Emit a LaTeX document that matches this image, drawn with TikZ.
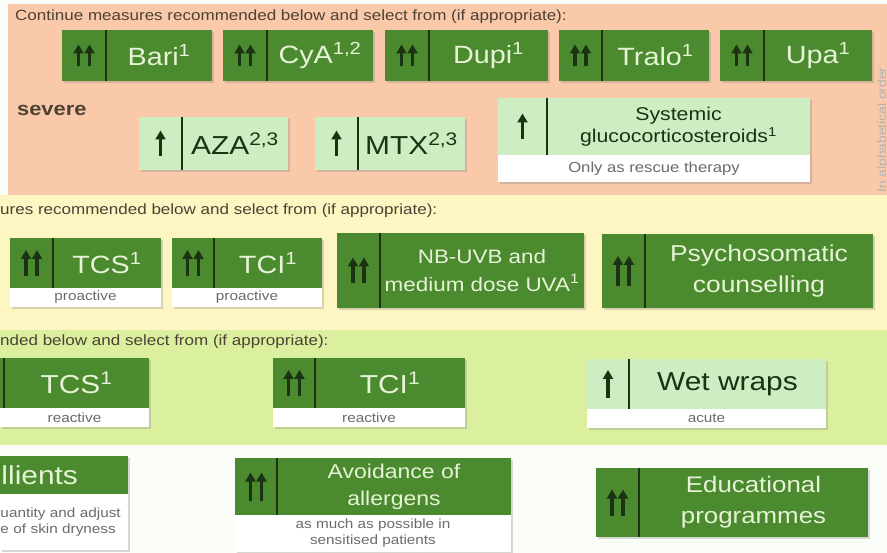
\documentclass[tikz,border=0pt]{standalone}
\usepackage{fontspec}
\setmainfont[FakeStretch=1.15]{Liberation Sans}
\usetikzlibrary{arrows.meta,shadows}

\definecolor{bandsevere}{HTML}{F9C9AA}
\definecolor{bandmod}{HTML}{FDF5C2}
\definecolor{bandmild}{HTML}{DAF09F}
\definecolor{bandbase}{HTML}{FBFDF8}
\definecolor{recdark}{HTML}{4B8A2E}
\definecolor{reclight}{HTML}{CDEDC2}
\definecolor{recink}{HTML}{1B3312}
\definecolor{recpale}{HTML}{E6F3D6}
\definecolor{hdrink}{HTML}{4D4136}
\definecolor{noteink}{HTML}{6B6B6B}

\newcommand{\upsingle}[2][13]{\draw[uparr] ([yshift=-#1pt]#2.center) -- ([yshift=#1pt]#2.center);}
\newcommand{\updouble}[2][13]{%
  \draw[uparr] ([xshift=-5.5pt,yshift=-#1pt]#2.center) -- ([xshift=-5.5pt,yshift=#1pt]#2.center);
  \draw[uparr] ([xshift=5.5pt,yshift=-#1pt]#2.center) -- ([xshift=5.5pt,yshift=#1pt]#2.center);}

\begin{document}
\begin{tikzpicture}[x=1pt,y=-1pt,
  cell/.style={inner sep=0pt, outer sep=0pt, anchor=north west,
    drop shadow={shadow xshift=1.5pt, shadow yshift=-2pt, opacity=0.3}},
  dark/.style={cell, fill=recdark, text=recpale},
  light/.style={cell, fill=reclight, text=recink},
  note/.style={cell, fill=white, text=noteink, align=center, font=\fontsize{13.3}{16}\selectfont},
  row1/.style={dark, minimum height=51, font=\fontsize{25}{28}\selectfont},
  big/.style={font=\fontsize{26}{28}\selectfont},
  divider/.style={draw=recink, line width=2.5pt},
  uparr/.style={draw=recink, line width=3.2pt, -{Triangle[width=10pt,length=9pt]}},
  hdr/.style={anchor=west, inner sep=0pt, text=hdrink, font=\fontsize{14.8}{16}\selectfont}]
\useasboundingbox (0,0) rectangle (887,553);

% bands
\fill[bandbase] (0,0) rectangle (887,553);
\fill[bandsevere] (8,4) rectangle (887,195);
\fill[bandmod] (0,195) rectangle (887,330);
\fill[bandmild] (0,330) rectangle (887,445);

% severe
\node[hdr] (hdr1) at (15,17) {Continue measures recommended below and select from (if appropriate):};
\node[anchor=west, inner sep=0pt, text=hdrink, font=\bfseries\fontsize{19}{21}\selectfont] (sev) at (17,110) {severe};
\node[rotate=90, inner sep=0pt, text=black!30, font=\fontsize{12}{14}\selectfont] (alpha) at (883,130) {In alphabetical order};

\node[row1, minimum width=44] (bari-up) at (62,30) {};
\node[row1, minimum width=106] (bari) at (bari-up.north east) {Bari\textsuperscript{1}};
\draw[divider] (bari-up.north east) -- (bari-up.south east);
\updouble[11]{bari-up}

\node[row1, minimum width=44] (cya-up) at (223,30) {};
\node[row1, minimum width=106] (cya) at (cya-up.north east) {CyA\textsuperscript{1,2}};
\draw[divider] (cya-up.north east) -- (cya-up.south east);
\updouble[11]{cya-up}

\node[row1, minimum width=44] (dupi-up) at (385,30) {};
\node[row1, minimum width=119] (dupi) at (dupi-up.north east) {Dupi\textsuperscript{1}};
\draw[divider] (dupi-up.north east) -- (dupi-up.south east);
\updouble[11]{dupi-up}

\node[row1, minimum width=43] (tralo-up) at (559,30) {};
\node[row1, minimum width=107] (tralo) at (tralo-up.north east) {Tralo\textsuperscript{1}};
\draw[divider] (tralo-up.north east) -- (tralo-up.south east);
\updouble[11]{tralo-up}

\node[row1, minimum width=44] (upa-up) at (720,30) {};
\node[row1, minimum width=108] (upa) at (upa-up.north east) {Upa\textsuperscript{1}};
\draw[divider] (upa-up.north east) -- (upa-up.south east);
\updouble[11]{upa-up}

\node[light, minimum width=43, minimum height=53] (aza-up) at (139,117) {};
\node[light, big, minimum width=106, minimum height=53] (aza) at (aza-up.north east) {AZA\textsuperscript{2,3}};
\draw[divider] (aza-up.north east) -- (aza-up.south east);
\upsingle{aza-up}

\node[light, minimum width=43, minimum height=53] (mtx-up) at (315,117) {};
\node[light, big, minimum width=107, minimum height=53] (mtx) at (mtx-up.north east) {MTX\textsuperscript{2,3}};
\draw[divider] (mtx-up.north east) -- (mtx-up.south east);
\upsingle{mtx-up}

\node[light, minimum width=49, minimum height=57] (gcs-up) at (498,98) {};
\node[light, minimum width=263, minimum height=57, align=center, font=\fontsize{18.5}{22}\selectfont] (gcs) at (gcs-up.north east) {Systemic\\glucocorticosteroids\textsuperscript{1}};
\node[note, minimum width=312, minimum height=27, font=\fontsize{14.5}{16}\selectfont] (gcs-note) at (gcs-up.south west) {Only as rescue therapy};
\draw[divider] (gcs-up.north east) -- (gcs-up.south east);
\upsingle{gcs-up}

% moderate
\node[hdr] (hdr2) at (0,211) {ures recommended below and select from (if appropriate):};

\node[dark, minimum width=43, minimum height=50] (tcsp-up) at (10,238) {};
\node[dark, minimum width=108, minimum height=50, font=\fontsize{25}{28}\selectfont] (tcsp) at (tcsp-up.north east) {TCS\textsuperscript{1}};
\node[note, minimum width=151, minimum height=19] (tcsp-note) at (tcsp-up.south west) {proactive};
\draw[divider] (tcsp-up.north east) -- (tcsp-up.south east);
\updouble{tcsp-up}

\node[dark, minimum width=42, minimum height=50] (tcip-up) at (172,238) {};
\node[dark, minimum width=108, minimum height=50, font=\fontsize{25}{28}\selectfont] (tcip) at (tcip-up.north east) {TCI\textsuperscript{1}};
\node[note, minimum width=150, minimum height=19] (tcip-note) at (tcip-up.south west) {proactive};
\draw[divider] (tcip-up.north east) -- (tcip-up.south east);
\updouble{tcip-up}

\node[dark, minimum width=43, minimum height=75] (uv-up) at (337,233) {};
\node[dark, minimum width=204, minimum height=75, align=center, font=\fontsize{19.5}{28}\selectfont] (uv) at (uv-up.north east) {NB-UVB and\\medium dose UVA\textsuperscript{1}};
\draw[divider] (uv-up.north east) -- (uv-up.south east);
\updouble{uv-up}

\node[dark, minimum width=43, minimum height=74] (psy-up) at (602,234) {};
\node[dark, minimum width=228, minimum height=74, align=center, font=\fontsize{23}{31}\selectfont] (psy) at (psy-up.north east) {Psychosomatic\\counselling};
\draw[divider] (psy-up.north east) -- (psy-up.south east);
\updouble[15]{psy-up}

% mild
\node[hdr] (hdr3) at (0,342) {nded below and select from (if appropriate):};

\node[dark, minimum width=4, minimum height=50] (tcsr-up) at (0,358) {};
\node[dark, big, minimum width=145, minimum height=50] (tcsr) at (tcsr-up.north east) {TCS\textsuperscript{1}};
\node[note, minimum width=149, minimum height=19] (tcsr-note) at (tcsr-up.south west) {reactive};
\draw[divider] (tcsr-up.north east) -- (tcsr-up.south east);

\node[dark, minimum width=42, minimum height=50] (tcir-up) at (273,358) {};
\node[dark, big, minimum width=150, minimum height=50] (tcir) at (tcir-up.north east) {TCI\textsuperscript{1}};
\node[note, minimum width=192, minimum height=19] (tcir-note) at (tcir-up.south west) {reactive};
\draw[divider] (tcir-up.north east) -- (tcir-up.south east);
\updouble{tcir-up}

\node[light, minimum width=42, minimum height=50] (wet-up) at (587,359) {};
\node[light, big, minimum width=197, minimum height=50] (wet) at (wet-up.north east) {Wet wraps};
\node[note, minimum width=239, minimum height=19] (wet-note) at (wet-up.south west) {acute};
\draw[divider] (wet-up.north east) -- (wet-up.south east);
\upsingle[14]{wet-up}

% basic
\node[dark, big, minimum width=128, minimum height=38, text width=125pt, align=left, inner xsep=1.5pt] (emo) at (0,456) {llients};
\node[note, minimum width=128, minimum height=56, text width=127pt, align=left, inner xsep=0.5pt] (emo-note) at (emo.south west) {uantity and adjust\\e of skin dryness};

\node[dark, minimum width=42, minimum height=57] (allerg-up) at (235,458) {};
\node[dark, minimum width=234, minimum height=57, align=center, font=\fontsize{20}{27}\selectfont] (allerg) at (allerg-up.north east) {Avoidance of\\allergens};
\node[note, minimum width=276, minimum height=37] (allerg-note) at (allerg-up.south west) {as much as possible in\\sensitised patients};
\draw[divider] (allerg-up.north east) -- (allerg-up.south east);
\updouble[14]{allerg-up}

\node[dark, minimum width=43, minimum height=69] (edu-up) at (596,468) {};
\node[dark, minimum width=229, minimum height=69, align=center, font=\fontsize{22.5}{31}\selectfont] (edu) at (edu-up.north east) {Educational\\programmes};
\draw[divider] (edu-up.north east) -- (edu-up.south east);
\updouble{edu-up}
\end{tikzpicture}
\end{document}
